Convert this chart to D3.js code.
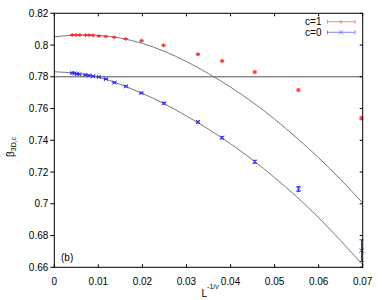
<!DOCTYPE html>
<html>
<head>
<meta charset="utf-8">
<script src="https://cdn.jsdelivr.net/npm/d3@7"></script>
<style>
  body { margin: 0; background: #fff; }
  svg { display: block; font-family: "Liberation Sans", Arial, sans-serif; }
</style>
</head>
<body>
<svg id="chart" width="382" height="300"></svg>
<script>
const margin = {top: 13.3, right: 19.3, bottom: 32.7, left: 54.3};
const width = 382 - margin.left - margin.right;
const height = 300 - margin.top - margin.bottom;

// x ticks / y ticks
const xTicks = [0, 0.01, 0.02, 0.03, 0.04, 0.05, 0.06, 0.07];
const yTicks = [0.66, 0.68, 0.7, 0.72, 0.74, 0.76, 0.78, 0.8, 0.82];

// c=1 data (red)
const redX = [0.00407, 0.0049, 0.0058, 0.0071, 0.0079, 0.0088, 0.0101, 0.0117, 0.0136, 0.0162, 0.0198, 0.0248, 0.0326, 0.0381, 0.0455, 0.0554, 0.0697];
const redY = [0.8063, 0.8063, 0.8063, 0.8062, 0.8062, 0.8061, 0.8057, 0.8054, 0.8049, 0.8038, 0.8027, 0.7998, 0.7942, 0.7900, 0.7830, 0.7717, 0.7539];
const redErr = [0.0003, 0.0003, 0.0003, 0.0003, 0.0003, 0.0003, 0.0003, 0.0003, 0.0003, 0.0003, 0.0004, 0.0004, 0.0005, 0.0005, 0.0006, 0.0006, 0.0009];

// c=0 data (blue)
const blueX = [0.00407, 0.00457, 0.00514, 0.0057, 0.00706, 0.00785, 0.00882, 0.01011, 0.0117, 0.01362, 0.01624, 0.01977, 0.02489, 0.03262, 0.0381, 0.04548, 0.05543, 0.06973];
const blueY = [0.7824, 0.7822, 0.7818, 0.7816, 0.7812, 0.7808, 0.7804, 0.7799, 0.7786, 0.7764, 0.7740, 0.7698, 0.7633, 0.7515, 0.7416, 0.7265, 0.7093, 0.6705];
const blueErr = [0.0003, 0.0003, 0.0003, 0.0003, 0.0003, 0.0003, 0.0003, 0.0003, 0.0003, 0.0003, 0.0004, 0.0004, 0.0005, 0.0006, 0.0007, 0.0009, 0.0016, 0.0068];

// fit curves
const fitX = [0, 0.005, 0.01, 0.015, 0.02, 0.025, 0.03, 0.035, 0.04, 0.045, 0.05, 0.055, 0.06, 0.065, 0.07];
const fitRed = [0.8052, 0.8063, 0.8061, 0.8044, 0.8010, 0.7960, 0.7896, 0.7820, 0.7735, 0.7640, 0.7533, 0.7416, 0.7290, 0.7153, 0.7005];
const fitBlue = [0.7832, 0.7822, 0.7798, 0.7752, 0.7695, 0.7630, 0.7553, 0.7470, 0.7378, 0.7277, 0.7165, 0.7045, 0.6912, 0.6768, 0.6615];
const refLine = 0.78;

const series = [
  {name: 'c=1', color: '#ff3030', marker: 'plus', x: redX, y: redY, err: redErr},
  {name: 'c=0', color: '#3030ff', marker: 'cross', x: blueX, y: blueY, err: blueErr}
];

const svg = d3.select('#chart');
const g = svg.append('g').attr('transform', 'translate(' + margin.left + ',' + margin.top + ')');

const x = d3.scaleLinear().domain([0, 0.07]).range([0, width]);
const y = d3.scaleLinear().domain([0.66, 0.82]).range([height, 0]);

svg.append('defs').append('clipPath').attr('id', 'clip')
  .append('rect').attr('width', width).attr('height', height);

const plot = g.append('g').attr('clip-path', 'url(#clip)');

// horizontal reference line
plot.append('line')
  .attr('x1', 0).attr('x2', width)
  .attr('y1', y(refLine)).attr('y2', y(refLine))
  .attr('stroke', '#555').attr('stroke-width', 1);

// fit curves
const line = d3.line().curve(d3.curveNatural);
[fitRed, fitBlue].forEach((vals) => {
  plot.append('path')
    .attr('d', line(fitX.map((d, i) => [x(d), y(vals[i])])))
    .attr('fill', 'none')
    .attr('stroke', '#777')
    .attr('stroke-width', 1);
});

function drawMarker(sel, type, cx, cy, s) {
  if (type === 'plus') {
    sel.append('path').attr('d', `M${cx - s},${cy}H${cx + s}M${cx},${cy - s}V${cy + s}`);
  } else {
    sel.append('path').attr('d', `M${cx - s},${cy - s}L${cx + s},${cy + s}M${cx - s},${cy + s}L${cx + s},${cy - s}`);
  }
}

// points with error bars
series.forEach((s) => {
  const sg = g.append('g').attr('stroke', s.color).attr('stroke-width', 1).attr('fill', 'none');
  s.x.forEach((xv, i) => {
    const cx = x(xv), cy = y(s.y[i]);
    const y1 = y(s.y[i] + s.err[i]), y2 = y(s.y[i] - s.err[i]);
    sg.append('path').attr('d', `M${cx},${y1}V${y2}M${cx - 2},${y1}H${cx + 2}M${cx - 2},${y2}H${cx + 2}`);
    drawMarker(sg, s.marker, cx, cy, 2);
  });
});

// frame
g.append('rect').attr('width', width).attr('height', height)
  .attr('fill', 'none').attr('stroke', '#000').attr('stroke-width', 1);

// ticks
const tl = 3;
const axes = g.append('g').attr('stroke', '#000').attr('stroke-width', 1);
xTicks.forEach((t) => {
  axes.append('line').attr('x1', x(t)).attr('x2', x(t)).attr('y1', height).attr('y2', height - tl);
  axes.append('line').attr('x1', x(t)).attr('x2', x(t)).attr('y1', 0).attr('y2', tl);
});
yTicks.forEach((t) => {
  axes.append('line').attr('x1', -tl - 1).attr('x2', 0).attr('y1', y(t)).attr('y2', y(t));
  axes.append('line').attr('x1', width - tl).attr('x2', width).attr('y1', y(t)).attr('y2', y(t));
});

// tick labels
g.selectAll('.xl').data(xTicks).enter().append('text')
  .attr('x', (d) => x(d)).attr('y', height + 18)
  .attr('text-anchor', 'middle').attr('font-size', 10).attr('fill', '#000')
  .text((d) => d3.format('~g')(d));

g.selectAll('.yl').data(yTicks).enter().append('text')
  .attr('x', -6).attr('y', (d) => y(d)).attr('dy', '0.35em')
  .attr('text-anchor', 'end').attr('font-size', 10).attr('fill', '#000')
  .text((d) => d3.format('~g')(d));

// axis titles
const xt = svg.append('text').attr('x', 201.5).attr('y', 296.5).attr('font-size', 10).attr('fill', '#000');
xt.append('tspan').text('L');
xt.append('tspan').attr('dy', -8).attr('font-size', 7).text('-1/ν');

const yt = svg.append('text').attr('transform', 'translate(14,157) rotate(-90)').attr('font-size', 10).attr('fill', '#000');
yt.append('tspan').text('β');
yt.append('tspan').attr('dy', 2).attr('font-size', 7).text('3D,c');

svg.append('text').attr('x', 61).attr('y', 261).attr('font-size', 10).attr('fill', '#000').text('(b)');

// legend
series.forEach((s, i) => {
  const ly = 21.7 + i * 10.6;
  svg.append('text').attr('x', 321.5).attr('y', ly).attr('dy', '0.35em')
    .attr('text-anchor', 'end').attr('font-size', 10).attr('fill', '#000').text(s.name);
  const lg = svg.append('g').attr('stroke', s.color).attr('stroke-width', 1).attr('fill', 'none').attr('opacity', 0.6);
  lg.append('path').attr('d', `M327.5,${ly}H355M327.5,${ly - 2}V${ly + 2}M355,${ly - 2}V${ly + 2}`);
  drawMarker(lg, s.marker, 341, ly, 2);
});
</script>
</body>
</html>
